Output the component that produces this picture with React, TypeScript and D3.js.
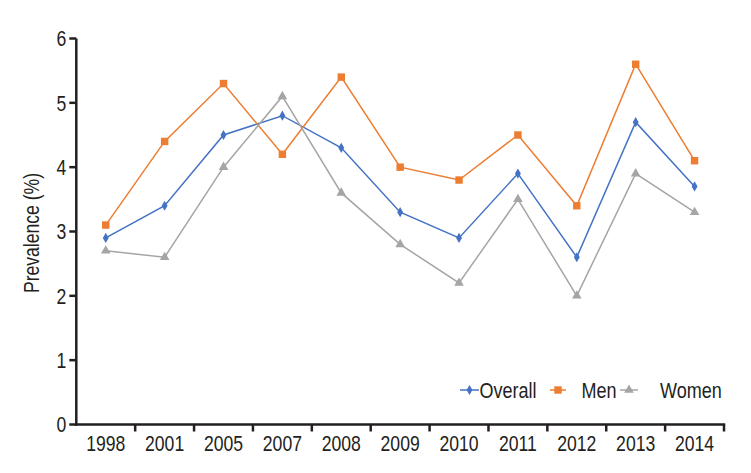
import React from "react";
import * as d3 from "d3";

const years = ["1998", "2001", "2005", "2007", "2008", "2009", "2010", "2011", "2012", "2013", "2014"];
const overall = [2.9, 3.4, 4.5, 4.8, 4.3, 3.3, 2.9, 3.9, 2.6, 4.7, 3.7];
const men = [3.1, 4.4, 5.3, 4.2, 5.4, 4.0, 3.8, 4.5, 3.4, 5.6, 4.1];
const women = [2.7, 2.6, 4.0, 5.1, 3.6, 2.8, 2.2, 3.5, 2.0, 3.9, 3.3];
const yTicks = [0, 1, 2, 3, 4, 5, 6];
const seriesNames = ["Overall", "Men", "Women"];

const W = 751;
const H = 473;
const left = 76.3;
const right = 724;
const top = 38.5;
const bottom = 424.5;
const font = "'Liberation Sans', Arial, sans-serif";
const axisColor = "#231f20";
const colors = ["#4472C4", "#ED7D31", "#A5A5A5"];
const symbols = [d3.symbolDiamond, d3.symbolSquare, d3.symbolTriangle];
const symSizes = [30, 55, 40];
const FS = 22;
const SX = 0.8;

function Cond({ x, y, anchor, children, size = FS, sx = SX }: any) {
  return (
    <text
      transform={`translate(${x},${y}) scale(${sx},1)`}
      dy="0.36em"
      textAnchor={anchor}
      fontFamily={font}
      fontSize={size}
      fill={axisColor}
    >
      {children}
    </text>
  );
}

export default function App() {
  const x = d3.scaleBand<string>().domain(years).range([left, right]);
  const y = d3.scaleLinear().domain([0, 6]).range([bottom, top]);
  const data = [overall, men, women];
  const cx = (i: number) => (x(years[i]) as number) + x.bandwidth() / 2;
  const line = d3
    .line<number>()
    .x((_, i) => cx(i))
    .y((d) => y(d));

  const legendItems = [
    { lx: 460, lw: 19, tx: 479.5 },
    { lx: 550, lw: 16, tx: 581.5 },
    { lx: 620, lw: 18, tx: 660 },
  ];
  const legendY = 390;

  return (
    <svg width={W} height={H} style={{ position: "absolute", left: 0, top: 0, background: "#fff" }}>
      {data.map((vals, si) => (
        <g key={si}>
          <path d={line(vals) || ""} fill="none" stroke={colors[si]} strokeWidth={1.5} />
          {vals.map((v, i) => (
            <path
              key={i}
              d={d3.symbol().type(symbols[si]).size(symSizes[si])() || ""}
              transform={`translate(${cx(i)},${y(v)})`}
              fill={colors[si]}
            />
          ))}
        </g>
      ))}
      <line x1={left} x2={left} y1={top} y2={bottom + 1.2} stroke={axisColor} strokeWidth={2.5} />
      <line x1={left - 1.2} x2={right + 1.2} y1={bottom} y2={bottom} stroke={axisColor} strokeWidth={2.5} />
      {yTicks.map((t) => (
        <g key={t}>
          <line x1={left - 7} x2={left} y1={y(t)} y2={y(t)} stroke={axisColor} strokeWidth={2.5} />
          <Cond x={left - 10} y={y(t)} anchor="end">
            {t}
          </Cond>
        </g>
      ))}
      {years.map((yr, i) => (
        <g key={yr}>
          <line
            x1={(x(yr) as number) + x.bandwidth()}
            x2={(x(yr) as number) + x.bandwidth()}
            y1={bottom}
            y2={bottom + 7}
            stroke={axisColor}
            strokeWidth={2.5}
          />
          <Cond x={cx(i)} y={443} anchor="middle">
            {yr}
          </Cond>
        </g>
      ))}
      <text
        transform={`translate(31,233) rotate(-90) scale(${SX},1)`}
        textAnchor="middle"
        dy="0.36em"
        fontFamily={font}
        fontSize={FS}
        fill={axisColor}
      >
        Prevalence (%)
      </text>
      {seriesNames.map((n, si) => (
        <g key={n}>
          <line
            x1={legendItems[si].lx}
            x2={legendItems[si].lx + legendItems[si].lw}
            y1={legendY}
            y2={legendY}
            stroke={colors[si]}
            strokeWidth={1.5}
          />
          <path
            d={d3.symbol().type(symbols[si]).size(symSizes[si])() || ""}
            transform={`translate(${legendItems[si].lx + legendItems[si].lw / 2},${legendY})`}
            fill={colors[si]}
          />
          <Cond x={legendItems[si].tx} y={legendY} anchor="start" sx={0.82}>
            {n}
          </Cond>
        </g>
      ))}
    </svg>
  );
}
